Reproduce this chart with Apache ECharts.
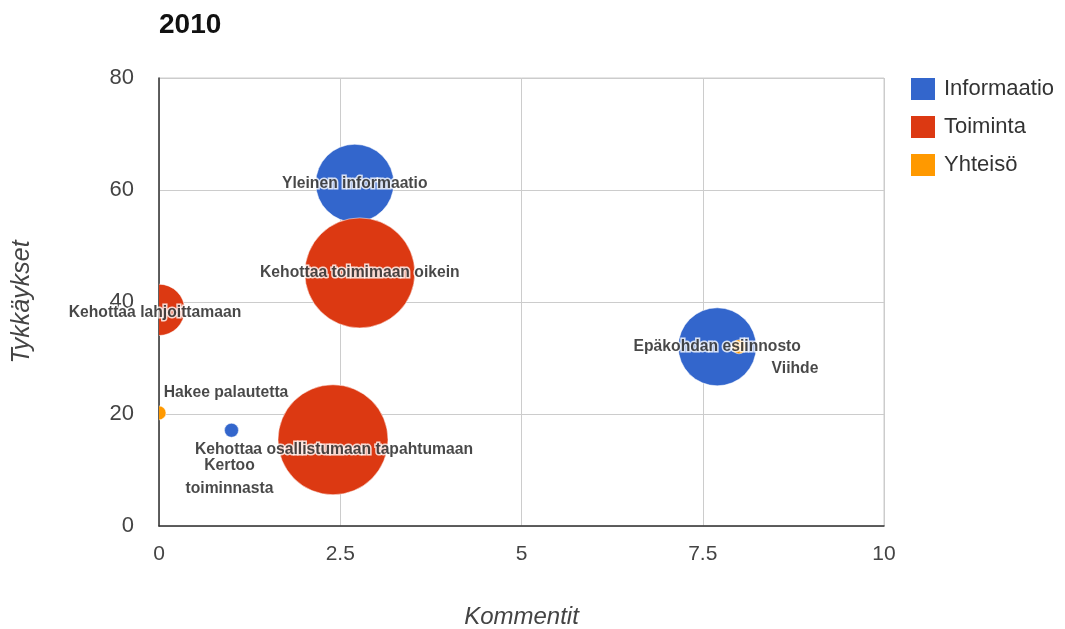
<!DOCTYPE html>
<html>
<head>
<meta charset="utf-8">
<script src="https://cdn.jsdelivr.net/npm/echarts@6/dist/echarts.min.js"></script>
<style>html,body{margin:0;padding:0;background:#fff;}#c{width:1065px;height:629px;}</style>
</head>
<body>
<div id="c"></div>
<script>
// ---- data ----
const categories = ['Informaatio', 'Toiminta', 'Yhteisö'];
const informaatioNames = ['Yleinen informaatio', 'Epäkohdan esiinnosto', 'Kertoo toiminnasta'];
const informaatioComments = [2.7, 7.7, 1.0];
const informaatioLikes = [61.2, 32.0, 17.1];
const informaatioSize = [7, 7, 1];

const toimintaNames = ['Kehottaa toimimaan oikein', 'Kehottaa lahjoittamaan', 'Kehottaa osallistumaan tapahtumaan'];
const toimintaComments = [2.77, 0, 2.4];
const toimintaLikes = [45.2, 38.6, 15.4];
const toimintaSize = [10, 4.5, 10];

const yhteisoNames = ['Hakee palautetta', 'Viihde'];
const yhteisoComments = [0, 8.0];
const yhteisoLikes = [20.2, 32.0];
const yhteisoSize = [1, 1];

const xTicks = [0, 2.5, 5, 7.5, 10];
const yTicks = [0, 20, 40, 60, 80];

// ---- presentation ----
const colors = ['#3366cc', '#dc3912', '#ff9900'];
const minR = 7, maxR = 55, minS = 1, maxS = 10;
function radius(s) { return minR + (s - minS) / (maxS - minS) * (maxR - minR); }
const labelOffsets = {
  'Yleinen informaatio': [0, 0],
  'Epäkohdan esiinnosto': [0, 0],
  'Kertoo toiminnasta': [-2, 47],
  'Kehottaa toimimaan oikein': [0, 0],
  'Kehottaa lahjoittamaan': [-4, 3],
  'Kehottaa osallistumaan tapahtumaan': [1, 10],
  'Hakee palautetta': [67, -20],
  'Viihde': [56, 22]
};
const wrapped = { 'Kertoo toiminnasta': 'Kertoo\ntoiminnasta' };

const groups = [
  [informaatioNames, informaatioComments, informaatioLikes, informaatioSize],
  [toimintaNames, toimintaComments, toimintaLikes, toimintaSize],
  [yhteisoNames, yhteisoComments, yhteisoLikes, yhteisoSize]
];

const series = [];
groups.forEach((g, i) => {
  const data = g[0].map((n, j) => ({ name: n, value: [g[1][j], g[2][j], g[3][j]] }));
  series.push({
    type: 'custom',
    name: categories[i],
    clip: true,
    z: 2,
    itemStyle: { color: colors[i] },
    encode: { x: 0, y: 1 },
    data: data,
    renderItem: function (params, api) {
      const p = api.coord([api.value(0), api.value(1)]);
      return {
        type: 'circle',
        shape: { cx: p[0], cy: p[1], r: radius(api.value(2)) },
        style: { fill: colors[i], stroke: 'rgba(255,255,255,0.5)', lineWidth: 1 }
      };
    }
  });
});
const labelData = [];
groups.forEach((g) => {
  g[0].forEach((n, j) => {
    labelData.push({
      name: n,
      value: [g[1][j], g[2][j]],
      label: { offset: labelOffsets[n] }
    });
  });
});
series.push({
  type: 'scatter',
  name: 'labels',
  symbolSize: 0,
  silent: true,
  clip: false,
  z: 10,
  data: labelData,
  label: {
    show: true,
    position: 'inside',
    formatter: (p) => wrapped[p.name] || p.name,
    fontFamily: 'Liberation Sans, Arial, sans-serif',
    fontWeight: 'bold',
    fontSize: 15.7,
    lineHeight: 23,
    color: '#1a1a1a',
    textBorderColor: '#fff',
    textBorderWidth: 3
  }
});

const chart = echarts.init(document.getElementById('c'));
chart.setOption({
  backgroundColor: '#fff',
  animation: false,
  textStyle: { fontFamily: 'Liberation Sans, Arial, sans-serif' },
  title: {
    text: '2010',
    left: 154,
    top: 6,
    textStyle: { fontSize: 28, fontWeight: 'bold', color: '#111' }
  },
  legend: {
    orient: 'vertical',
    left: 906,
    top: 73,
    data: categories,
    itemWidth: 24,
    itemHeight: 22,
    itemGap: 16,
    icon: 'rect',
    textStyle: { fontSize: 22, color: '#333', padding: [0, 0, 0, 4] }
  },
  grid: {
    left: 159, right: 181, top: 78, bottom: 103,
    outerBoundsMode: 'none',
    containLabel: false,
    show: true, borderColor: '#ccc', borderWidth: 1
  },
  xAxis: {
    type: 'value',
    min: xTicks[0], max: xTicks[xTicks.length - 1], interval: 2.5,
    name: 'Kommentit',
    nameLocation: 'middle',
    nameGap: 79,
    nameTextStyle: { fontStyle: 'italic', fontSize: 24, color: '#444' },
    axisLine: { show: true, onZero: false, lineStyle: { color: '#333', width: 1.5 } },
    axisTick: { show: false },
    axisLabel: { fontSize: 21, color: '#444', margin: 18 },
    splitLine: { show: true, lineStyle: { color: '#ccc' } }
  },
  yAxis: {
    type: 'value',
    min: yTicks[0], max: yTicks[yTicks.length - 1], interval: 20,
    name: 'Tykkäykset',
    nameLocation: 'middle',
    nameGap: 124,
    nameTextStyle: { fontStyle: 'italic', fontSize: 25, color: '#444' },
    axisLine: { show: true, onZero: false, lineStyle: { color: '#333', width: 1.5 } },
    axisTick: { show: false },
    axisLabel: { fontSize: 22, color: '#444', margin: 25 },
    splitLine: { show: true, lineStyle: { color: '#ccc' } }
  },
  series: series
});
</script>
</body>
</html>
